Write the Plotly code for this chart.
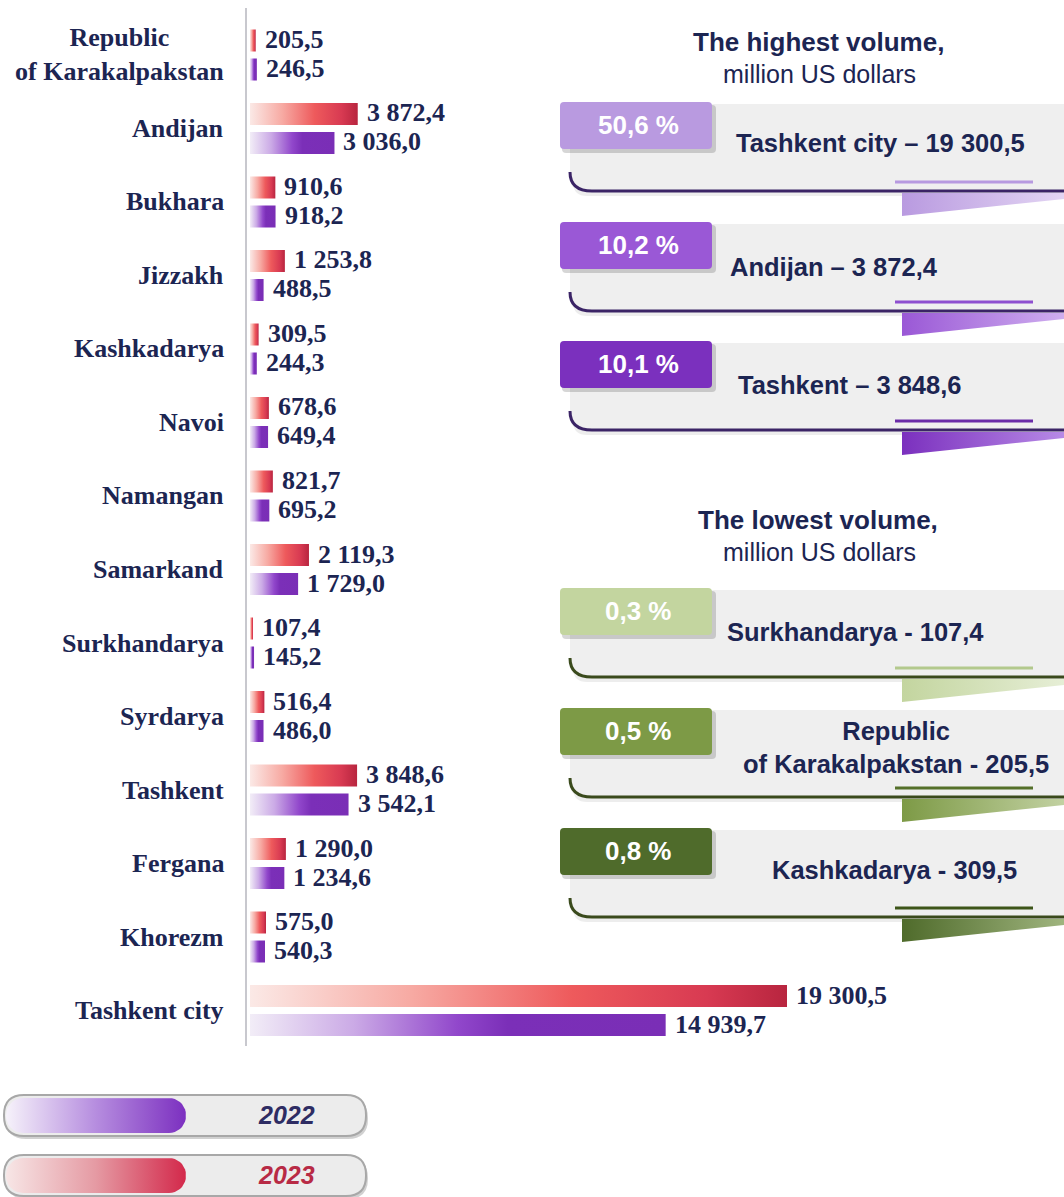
import numpy as np
import plotly.graph_objects as go

# ---------------- data ----------------
regions = ["Republic<br>of Karakalpakstan", "Andijan", "Bukhara", "Jizzakh", "Kashkadarya",
           "Navoi", "Namangan", "Samarkand", "Surkhandarya", "Syrdarya", "Tashkent",
           "Fergana", "Khorezm", "Tashkent city"]
values_2023 = [205.5, 3872.4, 910.6, 1253.8, 309.5, 678.6, 821.7, 2119.3, 107.4, 516.4,
               3848.6, 1290.0, 575.0, 19300.5]
values_2022 = [246.5, 3036.0, 918.2, 488.5, 244.3, 649.4, 695.2, 1729.0, 145.2, 486.0,
               3542.1, 1234.6, 540.3, 14939.7]
years = ["2022", "2023"]

top_names = ["Tashkent city", "Andijan", "Tashkent"]
top_values = [19300.5, 3872.4, 3848.6]
top_shares = [50.6, 10.2, 10.1]
low_names = ["Surkhandarya", "Republic<br>of Karakalpakstan", "Kashkadarya"]
low_values = [107.4, 205.5, 309.5]
low_shares = [0.3, 0.5, 0.8]
panel_titles = ["The highest volume,", "The lowest volume,"]
unit_label = "million US dollars"

# ---------------- layout constants ----------------
W, H = 1064, 1197
ZERO_PX, AXIS_PX = 250, 246
PX_PER_UNIT = (787 - 250) / 19300.5
ROW, Y0 = 73.5, 55
OFF, HH = 14.5 / ROW, 11 / ROW
SERIF = "Liberation Serif, Times New Roman, serif"
SANS = "Liberation Sans, Arial, sans-serif"
NAVY = "#1c2552"

RED_CS = [[0, "#fbe9e6"], [0.3, "#f7aaa3"], [0.6, "#ee5a5c"], [0.85, "#d83a52"], [1, "#b8253f"]]
PUR_CS = [[0, "#f2edf7"], [0.25, "#cbaae6"], [0.5, "#9147cb"], [0.62, "#7b2fb8"], [1, "#7a2eb6"]]


def fmt(v):
    return f"{v:,.1f}".replace(",", " ").replace(".", ",")


def fmt_share(s):
    return f"{s:.1f}".replace(".", ",") + " %"


def rrect(x0, y0, x1, y1, r):
    return (f"M {x0+r},{y0} L {x1-r},{y0} Q {x1},{y0} {x1},{y0+r} L {x1},{y1-r} "
            f"Q {x1},{y1} {x1-r},{y1} L {x0+r},{y1} Q {x0},{y1} {x0},{y1-r} "
            f"L {x0},{y0+r} Q {x0},{y0} {x0+r},{y0} Z")


def rounded_pts(x0, y0, x1, y1, r, n=10):
    xs, ys = [], []
    corners = [((x0 + r, y0 + r), 180, 270), ((x1 - r, y0 + r), 270, 360),
               ((x1 - r, y1 - r), 0, 90), ((x0 + r, y1 - r), 90, 180)]
    for (cx, cy), a0, a1 in corners:
        for a in np.linspace(np.radians(a0), np.radians(a1), n):
            xs.append(cx + r * np.cos(a))
            ys.append(cy + r * np.sin(a))
    xs.append(xs[0]); ys.append(ys[0])
    return xs, ys


fig = go.Figure()

# ---------------- bars (gradient-filled) ----------------
for i, (v23, v22) in enumerate(zip(values_2023, values_2022)):
    for v, c, cs, name in ((v23, i - OFF, RED_CS, years[1]), (v22, i + OFF, PUR_CS, years[0])):
        fig.add_trace(go.Scatter(
            x=[0, v, v, 0, 0], y=[c - HH, c - HH, c + HH, c + HH, c - HH],
            fill="toself", mode="lines", line=dict(width=0),
            fillgradient=dict(type="horizontal", colorscale=cs),
            name=name, hovertemplate=f"{regions[i]} {name}: {fmt(v)}<extra></extra>",
            showlegend=False, xaxis="x", yaxis="y"))

annotations = []
for i, (v23, v22) in enumerate(zip(values_2023, values_2022)):
    for v, c in ((v23, i - OFF), (v22, i + OFF)):
        annotations.append(dict(x=v, y=c, xref="x", yref="y", text=f"<b>{fmt(v)}</b>", showarrow=False,
                                xanchor="left", xshift=7, yshift=1,
                                font=dict(family=SERIF, size=26, color=NAVY)))
    annotations.append(dict(x=226 / W, y=i, xref="paper", yref="y", text=f"<b>{regions[i]}</b>",
                            showarrow=False, xanchor="right", align="center",
                            font=dict(family=SERIF, size=26, color=NAVY)))

shapes = []
deco_traces = []

# vertical axis line
shapes.append(dict(type="line", x0=AXIS_PX, x1=AXIS_PX, y0=8, y1=1046, xref="x2", yref="y2",
                   line=dict(color="#c8c8ce", width=2), layer="below"))

# ---------------- right panels ----------------
panel_B = [102, 222, 341, 588, 708, 828]
text_cx = [880, 834, 850, 855, 896, 894]
text_dy = [41, 45, 44, 44, 39, 42]
box_colors = ["#b99ae0", "#9a58d6", "#7b30be", "#c3d59f", "#7d9a46", "#4f6b2b"]
rib_light = ["#e3d5f3", "#cfaeef", "#b78ae6", "#e6eed6", "#c2d1a2", "#9fb47e"]
underline_colors = ["#b79ae0", "#8e4fd0", "#6a2ca8", "#b3c98d", "#55702a", "#3d5519"]
edge_colors = ["#3b2466"] * 3 + ["#3a4a1c"] * 3

panel_names = top_names + low_names
panel_values = top_values + low_values
panel_shares = top_shares + low_shares
seps = [" – "] * 3 + [" - "] * 3

for k, B in enumerate(panel_B):
    shapes.append(dict(type="path", path=rrect(573, B + 6, 1082, B + 94, 14), xref="x2", yref="y2",
                       fillcolor="rgba(0,0,0,0.07)", line=dict(width=0), layer="below"))
    shapes.append(dict(type="path", path=rrect(570, B + 2, 1078, B + 89, 14), xref="x2", yref="y2",
                       fillcolor="#efefef", line=dict(width=0), layer="below"))
    shapes.append(dict(type="path", path=f"M 570,{B+70} Q 570,{B+89} 592,{B+89} L 1070,{B+89}",
                       xref="x2", yref="y2", line=dict(color=edge_colors[k], width=3), layer="below"))
    shapes.append(dict(type="line", x0=895, x1=1033, y0=B + 80, y1=B + 80, xref="x2", yref="y2",
                       line=dict(color=underline_colors[k], width=3), layer="below"))
    shapes.append(dict(type="path", path=rrect(562, B + 3, 716, B + 51, 4), xref="x2", yref="y2",
                       fillcolor="rgba(0,0,0,0.16)", line=dict(width=0), layer="below"))
    shapes.append(dict(type="path", path=rrect(560, B, 712, B + 47, 4), xref="x2", yref="y2",
                       fillcolor=box_colors[k], line=dict(width=0), layer="below"))
    deco_traces.append(go.Scatter(
        x=[902, 1064, 1064, 902, 902], y=[B + 91, B + 91, B + 97, B + 114, B + 91],
        fill="toself", mode="lines", line=dict(width=0),
        fillgradient=dict(type="horizontal", colorscale=[[0, box_colors[k]], [1, rib_light[k]]]),
        hoverinfo="skip", showlegend=False, xaxis="x2", yaxis="y2"))
    annotations.append(dict(x=638, y=B + 23, xref="x2", yref="y2", text=f"<b>{fmt_share(panel_shares[k])}</b>",
                            showarrow=False, font=dict(family=SANS, size=26, color="white")))
    annotations.append(dict(x=text_cx[k], y=B + text_dy[k], xref="x2", yref="y2", align="center",
                            text=f"<b>{panel_names[k]}{seps[k]}{fmt(panel_values[k])}</b>",
                            showarrow=False, font=dict(family=SANS, size=25.5, color=NAVY)))

for title, ty in zip(panel_titles, [42, 520]):
    annotations.append(dict(x=818, y=ty, xref="x2", yref="y2", text=f"<b>{title}</b>", showarrow=False,
                            font=dict(family=SANS, size=26, color=NAVY)))
    annotations.append(dict(x=819, y=ty + 32, xref="x2", yref="y2", text=unit_label, showarrow=False,
                            font=dict(family=SANS, size=25, color=NAVY)))

# ---------------- legend pills ----------------
pill_tops = [1095, 1155]
pill_cs = [[[0, "#f6f2fa"], [0.5, "#b68ddf"], [1, "#7c30c0"]],
           [[0, "#f7e6e6"], [0.5, "#e59aa3"], [1, "#d3294b"]]]
pill_txt = ["#2e2c63", "#b82a45"]
for k, yt in enumerate(pill_tops):
    shapes.append(dict(type="path", path=rrect(6, yt + 3, 368, yt + 44, 20), xref="x2", yref="y2",
                       fillcolor="rgba(0,0,0,0.18)", line=dict(width=0), layer="below"))
    shapes.append(dict(type="path", path=rrect(4, yt, 366, yt + 41, 20), xref="x2", yref="y2",
                       fillcolor="#ececec", line=dict(color="#a8a8a8", width=2), layer="below"))
    xs, ys = rounded_pts(6, yt + 3, 186, yt + 38, 17)
    deco_traces.append(go.Scatter(x=xs, y=ys, fill="toself", mode="lines", line=dict(width=0),
                                  fillgradient=dict(type="horizontal", colorscale=pill_cs[k]),
                                  hoverinfo="skip", showlegend=False, xaxis="x2", yaxis="y2"))
    annotations.append(dict(x=286, y=yt + 20, xref="x2", yref="y2", text=f"<b><i>{years[k]}</i></b>",
                            showarrow=False, font=dict(family=SANS, size=25, color=pill_txt[k])))

for t in deco_traces:
    fig.add_trace(t)

n = len(regions)
fig.update_layout(
    width=W, height=H, margin=dict(l=0, r=0, t=0, b=0),
    paper_bgcolor="white", plot_bgcolor="rgba(0,0,0,0)",
    showlegend=False,
    xaxis=dict(domain=[AXIS_PX / W, 1], range=[-(ZERO_PX - AXIS_PX) / PX_PER_UNIT, (W - ZERO_PX) / PX_PER_UNIT],
               visible=False, fixedrange=True, anchor="y"),
    yaxis=dict(domain=[1 - (Y0 + (n - 0.5) * ROW) / H, 1 - (Y0 - ROW / 2) / H], range=[n - 0.5, -0.5],
               showline=False, showticklabels=False, ticks="",
               showgrid=False, zeroline=False, fixedrange=True, anchor="x"),
    xaxis2=dict(domain=[0, 1], range=[0, W], visible=False, fixedrange=True, anchor="y2"),
    yaxis2=dict(domain=[0, 1], range=[H, 0], visible=False, fixedrange=True, anchor="x2"),
    shapes=shapes, annotations=annotations,
)

fig.write_html("out.html", config={"displayModeBar": False},
               post_script="document.body.style.margin='0';document.body.style.padding='0';")
